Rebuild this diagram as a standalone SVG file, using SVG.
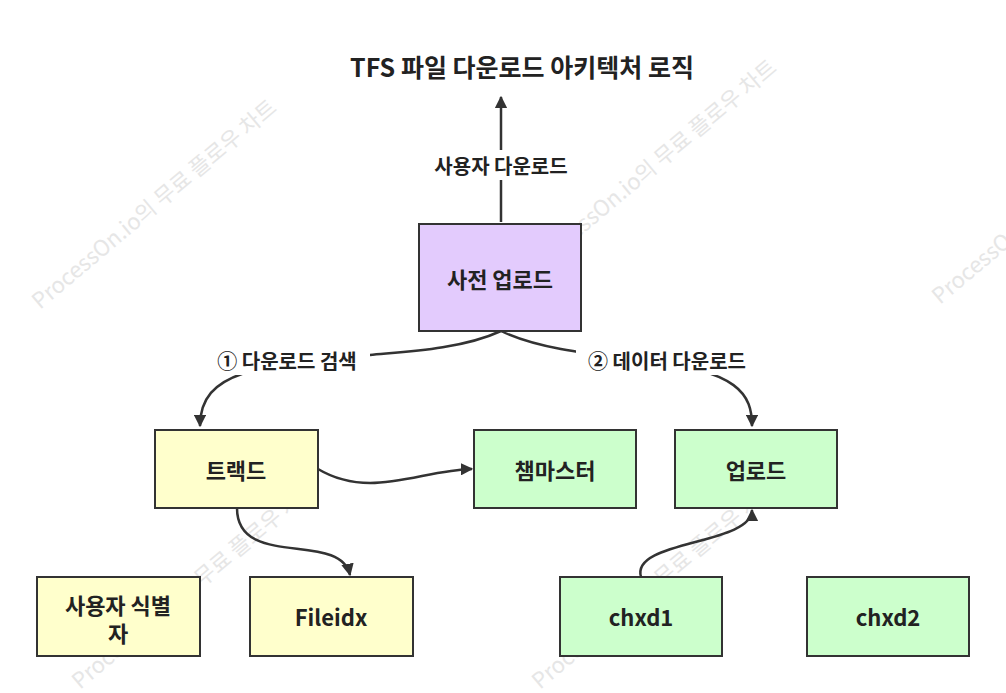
<svg xmlns="http://www.w3.org/2000/svg" width="1006" height="693" viewBox="0 0 1006 693">
<style>
text{font-family:"Noto Sans CJK KR","Liberation Sans",sans-serif;fill:#222}
.n{stroke:#333;stroke-width:2}
.t{font-size:22px;font-weight:bold;text-anchor:middle;dominant-baseline:central}
.l{font-size:20px;font-weight:bold;text-anchor:middle;dominant-baseline:central}
.c{fill:none;stroke:#333;stroke-width:2.5;marker-end:url(#a)}
.w{font-size:22px;fill:#e6e6e6;font-weight:normal}
</style>
<defs><marker id="a" viewBox="0 0 10 10" refX="9" refY="5" markerWidth="5" markerHeight="5" orient="auto"><path d="M0,0L10,5L0,10z" fill="#333"/></marker></defs>
<rect width="1006" height="693" fill="#fff"/>
<g id="watermarks">
<text class="w" transform="translate(40,310) rotate(-40)">ProcessOn.io의 무료 플로우 차트</text>
<text class="w" transform="translate(540,270) rotate(-40)">ProcessOn.io의 무료 플로우 차트</text>
<text class="w" transform="translate(940,305) rotate(-40)">ProcessOn</text>
<text class="w" transform="translate(80,690) rotate(-40)">ProcessOn.io의 무료 플로우 차트</text>
<text class="w" transform="translate(540,690) rotate(-40)">ProcessOn.io의 무료 플로우 차트</text>
</g>
<text x="522" y="66" class="t" style="font-size:25px">TFS 파일 다운로드 아키텍처 로직</text>
<g id="connectors">
<path class="c" d="M501,222L501,97"/>
<rect x="412" y="150" width="178" height="30" fill="#fff"/>
<text x="501" y="165" class="l">사용자 다운로드</text>
<path class="c" d="M501,331C460,350 400,352 370,355C260,365 200,370 200,426"/>
<path class="c" d="M501,331C540,350 600,355 640,360C740,370 752,395 752,426"/>
<rect x="204" y="345" width="166" height="30" fill="#fff"/>
<rect x="576" y="345" width="184" height="30" fill="#fff"/>
<text x="287" y="360" class="l">① 다운로드 검색</text>
<text x="667" y="360" class="l">② 데이터 다운로드</text>
<path class="c" d="M318,469C370,500 420,470 472,469"/>
<path class="c" d="M237,508C237,570 340,530 350,575"/>
<path class="c" d="M641,577C630,540 752,545 752,510"/>
</g>
<g id="n1"><rect class="n" x="419" y="224" width="162" height="107" fill="#e3cbfd"/><text x="500" y="278" class="t">사전 업로드</text></g>
<g id="n2"><rect class="n" x="155" y="430" width="163" height="78" fill="#ffffcc"/><text x="236" y="469" class="t">트랙드</text></g>
<g id="n3"><rect class="n" x="474" y="430" width="162" height="78" fill="#ccffcc"/><text x="555" y="469" class="t">챔마스터</text></g>
<g id="n4"><rect class="n" x="675" y="430" width="162" height="78" fill="#ccffcc"/><text x="756" y="469" class="t">업로드</text></g>
<g id="n5"><rect class="n" x="37" y="577" width="163" height="79" fill="#ffffcc"/><text x="118" y="604" class="t">사용자 식별</text><text x="118" y="632" class="t">자</text></g>
<g id="n6"><rect class="n" x="250" y="577" width="163" height="79" fill="#ffffcc"/><text x="331" y="616" class="t">Fileidx</text></g>
<g id="n7"><rect class="n" x="560" y="577" width="162" height="79" fill="#ccffcc"/><text x="641" y="616" class="t">chxd1</text></g>
<g id="n8"><rect class="n" x="807" y="577" width="162" height="79" fill="#ccffcc"/><text x="888" y="616" class="t">chxd2</text></g>
</svg>
